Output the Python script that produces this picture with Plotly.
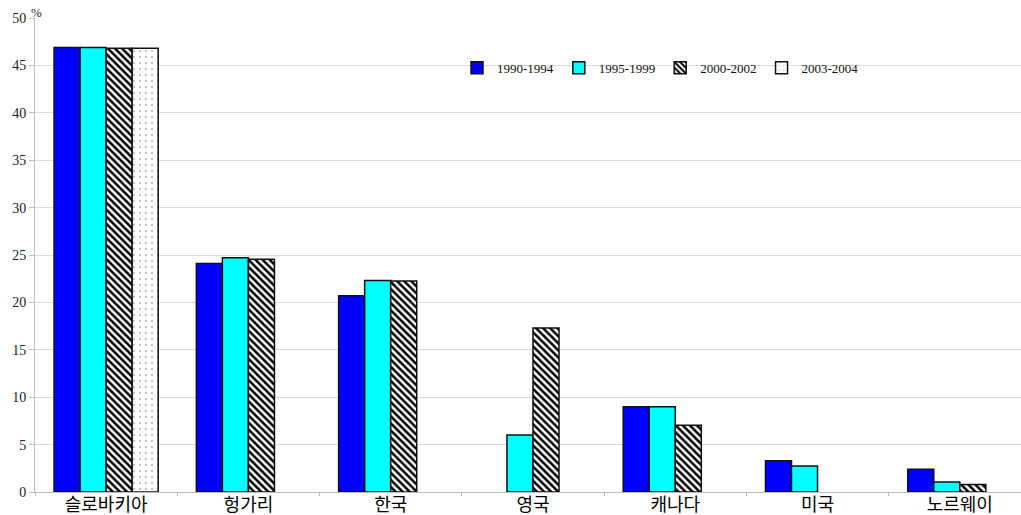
import plotly.graph_objects as go

countries = ["슬로바키아", "헝가리", "한국", "영국", "캐나다", "미국", "노르웨이"]
periods = ["1990-1994", "1995-1999", "2000-2002", "2003-2004"]

v_1990_1994 = [46.9, 24.1, 20.7, None, 9.0, 3.3, 2.4]
v_1995_1999 = [46.9, 24.7, 22.3, 6.0, 9.0, 2.75, 1.05]
v_2000_2002 = [46.8, 24.55, 22.25, 17.3, 7.05, None, 0.8]
v_2003_2004 = [46.8, None, None, None, None, None, None]

y_ticks = [0, 5, 10, 15, 20, 25, 30, 35, 40, 45, 50]

series = [v_1990_1994, v_1995_1999, v_2000_2002, v_2003_2004]
fills = [
    dict(color="#0000ff"),
    dict(color="#00ffff"),
    dict(color="#ffffff", pattern=dict(shape="\\", fgcolor="#000000", bgcolor="#ffffff",
                                       fgopacity=1, size=5, solidity=0.5)),
    dict(color="#ffffff", pattern=dict(shape=".", fgcolor="#8a8a8a", bgcolor="#ffffff",
                                       size=6, solidity=0.12)),
]

fig = go.Figure()
for name, vals, fill in zip(periods, series, fills):
    fig.add_trace(go.Bar(
        x=countries, y=vals, name=name,
        marker=dict(line=dict(color="#111111", width=1.5), **fill),
    ))

fig.update_layout(
    width=1021, height=515,
    margin=dict(l=35, r=0, t=18, b=23, autoexpand=False),
    plot_bgcolor="white", paper_bgcolor="white",
    barmode="group", bargap=0.268, bargroupgap=0,
    font=dict(family="Liberation Serif, Times New Roman, serif", color="#222222", size=14),
    legend=dict(orientation="h", x=0.428, y=0.895, xanchor="left", yanchor="middle",
                font=dict(size=13, family="Liberation Serif, serif", color="#111111"),
                itemwidth=30, tracegroupgap=0, bgcolor="rgba(0,0,0,0)"),
    showlegend=True,
)
fig.update_xaxes(
    range=[-0.5, 6.43], automargin=False,
    showgrid=False, showline=True, linecolor="#bdbdbd", linewidth=1,
    ticks="outside", tickson="boundaries", ticklen=3, tickcolor="#bdbdbd",
    ticklabelstandoff=-4,
    tickfont=dict(family="Noto Sans CJK KR", size=18, color="#000000"),
)
fig.update_yaxes(
    range=[0, 50], tickvals=y_ticks, automargin=False,
    showgrid=True, gridcolor="#d9d9d9", gridwidth=1,
    showline=True, linecolor="#bdbdbd", linewidth=1,
    ticks="outside", ticklen=5, tickcolor="#bdbdbd",
    tickfont=dict(size=14, color="#222222"), zeroline=False,
)
fig.add_annotation(text="%", xref="paper", yref="paper", x=0, y=1, xanchor="left",
                   yanchor="bottom", yshift=-4, xshift=-6, showarrow=False,
                   font=dict(size=13, color="#222222"))

fig.write_html("out.html")
